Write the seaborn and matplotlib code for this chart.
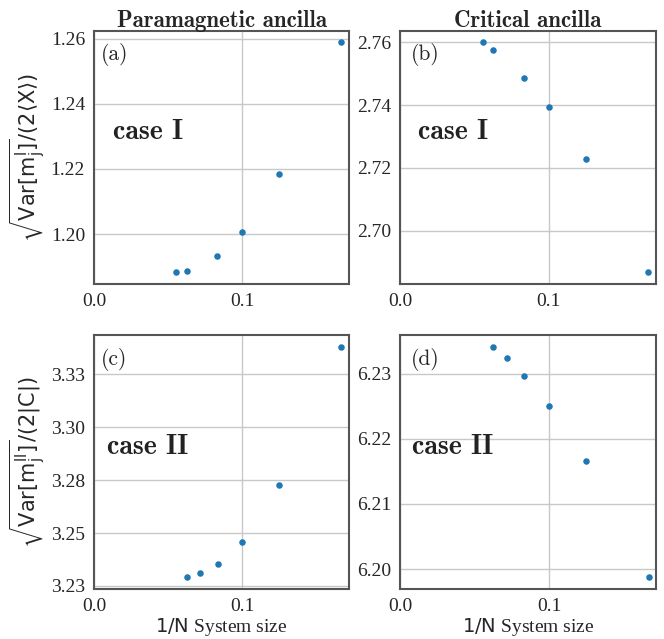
import matplotlib
matplotlib.use("Agg")
import matplotlib.pyplot as plt
import matplotlib.ticker as mticker
import seaborn as sns

N_a = [18, 16, 12, 10, 8, 6]
val_a = [1.1882, 1.1887, 1.1932, 1.2007, 1.2183, 1.2588]
N_b = [18, 16, 12, 10, 8, 6]
val_b = [2.7599, 2.7575, 2.7485, 2.7395, 2.7228, 2.6868]
N_c = [16, 14, 12, 10, 8, 6]
val_c = [3.2290, 3.2309, 3.2352, 3.2460, 3.2726, 3.3381]
N_d = [16, 14, 12, 10, 8, 6]
val_d = [6.2342, 6.2324, 6.2296, 6.2250, 6.2166, 6.1987]

col_titles = ["Paramagnetic ancilla", "Critical ancilla"]
panel_tags = ["(a)", "(b)", "(c)", "(d)"]
case_labels = ["case I", "case II"]
ylabels = [r"$\sqrt{\mathrm{Var}[\mathrm{m}_\mathrm{j}^{\mathrm{I}}]}/(2\langle\mathrm{X}\rangle)$",
           r"$\sqrt{\mathrm{Var}[\mathrm{m}_\mathrm{j}^{\mathrm{II}}]}/(2|\mathrm{C}|)$"]
ytick_step = [0.02, 0.02, 0.025, 0.01]

sns.set_style("white")
plt.rcParams["font.family"] = ["Liberation Serif", "DejaVu Serif"]
plt.rcParams["mathtext.fontset"] = "dejavusans"
plt.rcParams["axes.unicode_minus"] = False

fig = plt.figure(figsize=(6.64, 6.39), dpi=100)
boxes = [
    [0.1416, 0.5556, 0.384, 0.396],
    [0.6024, 0.5556, 0.386, 0.396],
    [0.1416, 0.0782, 0.384, 0.3975],
    [0.6024, 0.0782, 0.386, 0.3975],
]
data = [(N_a, val_a), (N_b, val_b), (N_c, val_c), (N_d, val_d)]

for i, (box, (Ns, vals)) in enumerate(zip(boxes, data)):
    ax = fig.add_axes(box)
    x = [1.0 / n for n in Ns]
    sns.scatterplot(x=x, y=vals, ax=ax, color="#1f77b4", s=22, linewidth=0)
    ax.set_xlim(left=0)
    ax.xaxis.set_major_locator(mticker.MultipleLocator(0.1))
    ax.xaxis.set_major_formatter(mticker.FormatStrFormatter("%.1f"))
    ax.yaxis.set_major_locator(mticker.MultipleLocator(ytick_step[i]))
    ax.yaxis.set_major_formatter(mticker.FormatStrFormatter("%.2f"))
    ax.grid(True, color="#c8c8c8", linewidth=1)
    ax.tick_params(labelsize=14, length=3, color="#555555")
    for sp in ax.spines.values():
        sp.set_color("#555555")
        sp.set_linewidth(1.5)

    row, colm = divmod(i, 2)
    if row == 0:
        ax.set_title(col_titles[colm], fontsize=16.5, family="cmb10", pad=3)
    else:
        ax.set_xlabel(r"$\mathrm{1/N}$ System size", fontsize=14, labelpad=1)
    if colm == 0:
        ax.set_ylabel(ylabels[row], fontsize=15, labelpad=2)

    tx = [0.026, 0.043, 0.026, 0.043][i]
    ax.text(tx, 0.905, panel_tags[i], transform=ax.transAxes,
            fontsize=15.5, va="center", ha="left", family="cmr10")
    cx = [0.075, 0.07, 0.05, 0.047][i]
    cy = 0.60 if row == 0 else 0.56
    ax.text(cx, cy, case_labels[row], transform=ax.transAxes,
            fontsize=20, va="center", ha="left", family="cmb10", color="#222222")

fig.savefig("out.png", dpi=100)
